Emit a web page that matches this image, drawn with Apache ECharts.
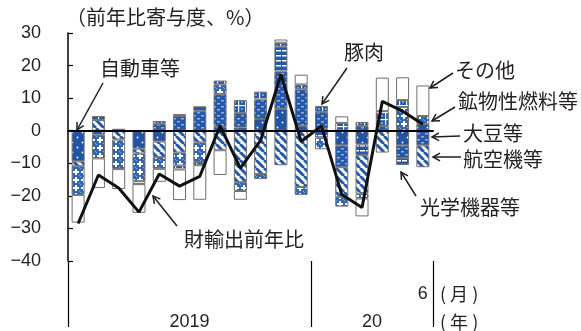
<!DOCTYPE html>
<html>
<head>
<meta charset="utf-8">
<script src="https://cdn.jsdelivr.net/npm/echarts@6/dist/echarts.min.js"></script>
<style>
  html, body { margin: 0; padding: 0; background: #fff; }
  #chart { width: 581px; height: 331px; }
</style>
</head>
<body>
<div id="chart"></div>
<script>
// Months, Jan 2019 – Jun 2020
const categories = [
  '2019/1','2019/2','2019/3','2019/4','2019/5','2019/6','2019/7','2019/8','2019/9',
  '2019/10','2019/11','2019/12','2020/1','2020/2','2020/3','2020/4','2020/5','2020/6'
];
const yearLabels = ['2019', '20'];
const yearLabelIndex = [5, 14];

// Contributions to y/y change, % points
const autos    = [-9.4, -1.2, 0.6, -5.5, -3.3, 0, 0, 1.2, 1.0, 3.6, 6.7, 1.5, 0.6, -4.5, -4.2, 0, -4.5, 2.1];
const soybeans = [0, 0, 0, 0, 2.1, 4.5, 6.0, 10.0, 4.4, 6.0, 11.5, 11.2, 5.2, -6.7, 1.5, 1.5, -3.9, -4.5];
const optics   = [0, 0, 0, 0, 0, 0.6, 1.5, 0, 0, 0, 7.6, 0, -2.1, 0, -3.3, 0, -2.1, 0];
const aircraft = [-1.5, 3.3, -2.7, -1.5, -4.8, -6.7, -3.6, -6.0, -15.8, -13.3, -10.6, -17.3, 0, -9.1, -11.8, -6.7, 0, -6.7];
const fuels    = [-8.8, -7.3, -9.1, -8.5, -3.6, -4.0, -6.0, 3.0, -2.7, -1.5, 0, -2.4, -3.6, -3.0, -1.5, 0, 7.3, 2.4];
const pork     = [0, 1.2, 0, -0.9, 0.9, -1.2, -1.0, 1.2, 4.0, 2.4, 1.2, 1.5, 1.8, 2.4, 1.2, 4.5, 2.1, 0];
const others   = [-8.5, -9.1, -6.1, -8.8, -4.0, -9.4, -10.6, -7.6, -2.7, 0, 1.0, 3.0, 0, 2.0, -5.5, 10.3, 7.0, 9.4];
// Goods exports, y/y %
const exportsYoY = [-28.5, -13.6, -17.6, -25.0, -13.3, -17.0, -14.0, 1.5, -11.5, -3.0, 17.3, -3.3, 1.5, -19.6, -23.6, 9.0, 6.0, 2.0];

const BLUE = '#2559a8';
const CJK = '"Noto Sans CJK JP", sans-serif';
const NUM = '"Liberation Sans", Arial, sans-serif';
const INK = '#231f20';

// ---- fill patterns ----
function tile(w, h, draw) {
  const c = document.createElement('canvas');
  c.width = w; c.height = h;
  const g = c.getContext('2d');
  draw(g, w, h);
  return { image: c, repeat: 'repeat' };
}
const patAutos = tile(10, 10, (g) => {
  g.fillStyle = '#2154a4'; g.fillRect(0, 0, 10, 10);
  g.fillStyle = '#ffffff';
  g.beginPath(); g.arc(2.5, 2.5, 0.9, 0, Math.PI * 2); g.fill();
  g.beginPath(); g.arc(7.5, 7.5, 0.9, 0, Math.PI * 2); g.fill();
});
const patSoy = tile(8, 6, (g) => {
  g.fillStyle = BLUE; g.fillRect(0, 0, 8, 6);
  g.fillStyle = '#8eaedd';
  g.fillRect(1, 1, 3, 1.5);
  g.fillRect(5, 4, 3, 1.5);
});
const patOptics = tile(6, 5, (g) => {
  g.fillStyle = BLUE; g.fillRect(0, 0, 6, 5);
  g.fillStyle = '#ffffff';
  g.fillRect(0, 0, 5, 1.5);
});
const patAircraft = tile(8, 8, (g) => {
  g.fillStyle = '#ffffff'; g.fillRect(0, 0, 8, 8);
  g.strokeStyle = BLUE; g.lineWidth = 3;
  for (const x0 of [-8, 0, 8]) {
    g.beginPath(); g.moveTo(x0, 0); g.lineTo(x0 + 8, 8); g.stroke();
  }
});
const patFuels = tile(8, 8, (g) => {
  g.fillStyle = '#3466b2'; g.fillRect(0, 0, 8, 8);
  g.fillStyle = '#ffffff';
  g.fillRect(3, 1, 2, 6);
  g.fillRect(1, 3, 6, 2);
  g.fillStyle = '#86a7d9';
  g.fillRect(0, 0, 1, 1); g.fillRect(7, 7, 1, 1);
});
const patPork = tile(7, 7, (g) => {
  g.fillStyle = BLUE; g.fillRect(0, 0, 7, 7);
  g.fillStyle = '#ffffff';
  g.fillRect(0, 0, 7, 1.2);
  g.fillRect(0, 0, 1.2, 7);
  g.fillStyle = '#7b9fd6';
  g.fillRect(3, 3, 2, 2);
});

const stackDefs = [
  { name: '自動車等', data: autos, fill: patAutos },
  { name: '大豆等', data: soybeans, fill: patSoy },
  { name: '光学機器等', data: optics, fill: patOptics },
  { name: '航空機等', data: aircraft, fill: patAircraft },
  { name: '鉱物性燃料等', data: fuels, fill: patFuels },
  { name: '豚肉', data: pork, fill: patPork },
  { name: 'その他', data: others, fill: '#ffffff' }
];

const barSeries = stackDefs.map((d) => ({
  name: d.name,
  type: 'bar',
  stack: 'contrib',
  xAxisIndex: 0,
  barWidth: 13,
  data: d.data.map((v) => (v === 0 ? '-' : v)),
  itemStyle: { color: d.fill, borderColor: '#6f6f6f', borderWidth: 1 },
  emphasis: { disabled: true },
  z: 2
}));

// ---- callouts ----
function arrow(x1, y1, x2, y2) {
  const a = Math.atan2(y2 - y1, x2 - x1);
  const L = 8, s = 0.5;
  const p1 = [x2 - L * Math.cos(a - s), y2 - L * Math.sin(a - s)];
  const p2 = [x2 - L * Math.cos(a + s), y2 - L * Math.sin(a + s)];
  return [
    { type: 'polyline', shape: { points: [[x1, y1], [x2, y2]] }, style: { stroke: INK, lineWidth: 1.5, fill: null }, z: 20 },
    { type: 'polyline', shape: { points: [p1, [x2, y2], p2] }, style: { stroke: INK, lineWidth: 1.5, fill: null }, z: 20 }
  ];
}
function label(text, x, y) {
  return { type: 'text', x: x, y: y, z: 20,
    style: { text: text, font: '20px ' + CJK, fill: INK, align: 'left', verticalAlign: 'middle' } };
}
const callouts = [
  { text: '自動車等', tx: 100, ty: 68, from: [103, 83], to: [77, 130] },
  { text: '豚肉', tx: 344, ty: 52, from: [347, 68], to: [322, 104] },
  { text: 'その他', tx: 455, ty: 70, from: [453, 73], to: [430, 88] },
  { text: '鉱物性燃料等', tx: 458, ty: 101, from: [455, 107], to: [432, 121] },
  { text: '大豆等', tx: 463, ty: 133, from: [460, 136], to: [432, 137] },
  { text: '航空機等', tx: 463, ty: 159, from: [461, 157], to: [433, 157] },
  { text: '光学機器等', tx: 420, ty: 207, from: [416, 196], to: [401, 172] },
  { text: '財輸出前年比', tx: 184, ty: 239, from: [177, 226], to: [153, 196] }
];
const graphics = [label('（前年比寄与度、%）', 66, 17)];
callouts.forEach((c) => {
  graphics.push(label(c.text, c.tx, c.ty));
  arrow(c.from[0], c.from[1], c.to[0], c.to[1]).forEach((e) => graphics.push(e));
});

const chart = echarts.init(document.getElementById('chart'), null, { renderer: 'canvas' });
chart.setOption({
  animation: false,
  backgroundColor: '#ffffff',
  grid: { left: 68, right: 148, top: 33, bottom: 67, containLabel: false },
  xAxis: [
    { // zero line
      type: 'category', data: categories, position: 'bottom', z: 5,
      axisLine: { show: true, onZero: true, lineStyle: { color: '#000', width: 2 } },
      axisTick: { show: false }, axisLabel: { show: false }, splitLine: { show: false }
    },
    { // year separators
      type: 'category', data: categories, position: 'bottom', offset: 0,
      axisLine: { show: false, onZero: false },
      axisTick: { show: true, length: 66, interval: (i) => i === 0 || i === 12, lineStyle: { color: '#000', width: 1.2 } },
      axisLabel: { show: false }, splitLine: { show: false }
    },
    { // month row
      type: 'category', data: categories, position: 'bottom', offset: 33,
      axisLine: { show: false, onZero: false }, axisTick: { show: false },
      name: '( 月 )', nameLocation: 'end', nameGap: 7,
      nameTextStyle: { fontFamily: CJK, fontSize: 18, color: INK, verticalAlign: 'middle' },
      axisLabel: {
        interval: 0, margin: 0, verticalAlign: 'middle',
        fontFamily: NUM, fontSize: 18, color: INK,
        formatter: (v, i) => (i === categories.length - 1 ? v.split('/')[1] : '')
      }
    },
    { // year row
      type: 'category', data: categories, position: 'bottom', offset: 61,
      axisLine: { show: false, onZero: false }, axisTick: { show: false },
      name: '( 年 )', nameLocation: 'end', nameGap: 7,
      nameTextStyle: { fontFamily: CJK, fontSize: 18, color: INK, verticalAlign: 'middle' },
      axisLabel: {
        interval: 0, margin: 0, verticalAlign: 'middle', padding: [0, 0, 0, 20],
        fontFamily: NUM, fontSize: 18, color: INK,
        formatter: (v, i) => {
          const k = yearLabelIndex.indexOf(i);
          return k >= 0 ? yearLabels[k] : '';
        }
      }
    }
  ],
  yAxis: {
    type: 'value', min: -40, max: 30, interval: 10,
    axisLine: { show: true, lineStyle: { color: '#000', width: 1.5 } },
    axisTick: { show: true, inside: true, length: 5, lineStyle: { color: '#000', width: 1.2 } },
    splitLine: { show: false },
    axisLabel: {
      margin: 27, fontFamily: NUM, fontSize: 18, color: INK,
      formatter: (v) => (v < 0 ? '−' + Math.abs(v) : String(v))
    }
  },
  series: barSeries.concat([{
    name: '財輸出前年比', type: 'line', xAxisIndex: 0, data: exportsYoY,
    symbol: 'none', lineStyle: { color: '#111', width: 3 }, z: 10,
    emphasis: { disabled: true }
  }]),
  graphic: graphics
});
</script>
</body>
</html>
